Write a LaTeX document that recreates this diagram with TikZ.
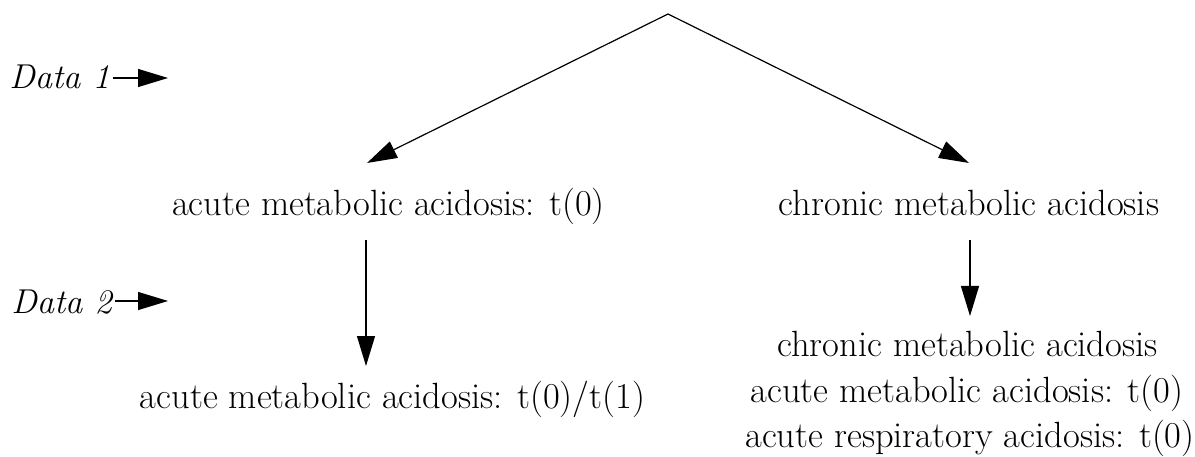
\documentclass[tikz,border=0pt]{standalone}
\usepackage{fontspec}
\usetikzlibrary{arrows.meta}
\begin{document}
\begin{tikzpicture}[x=1pt,y=-1pt,
  lbl/.style={font=\fontsize{36.5}{40}\selectfont, anchor=base, inner sep=0pt},
  datalbl/.style={font=\fontsize{34.5}{40}\selectfont\itshape, anchor=base east, inner sep=0pt},
  arr/.style={-{Triangle[length=30pt,width=18pt]}, line width=1.2pt}]
\useasboundingbox (0,0) rectangle (1195,457);

% tree labels
\node[lbl] (L1)  at (388.5,216) {acute metabolic acidosis: t(0)};
\node[lbl] (R1)  at (969,216)   {chronic metabolic acidosis};
\node[lbl] (L2)  at (392.5,408) {acute metabolic acidosis: t(0)/t(1)};
\node[lbl] (R2a) at (967.5,356) {chronic metabolic acidosis};
\node[lbl] (R2b) at (967,402)   {acute metabolic acidosis: t(0)};
\node[lbl] (R2c) at (970,447)   {acute respiratory acidosis: t(0)};

% data stage markers
\node[datalbl] (D1) at (110,89)  {Data 1};
\node[datalbl] (D2) at (112,313) {Data 2};

% connector end points
\coordinate (top) at (668,14);
\coordinate (a1) at (367,163);
\coordinate (b1) at (969,163);
\coordinate (a2s) at (366,240);
\coordinate (a2e) at (366,366);
\coordinate (b2s) at (970,240);
\coordinate (b2e) at (970,316);
\coordinate (d1e) at (168,78);
\coordinate (d2e) at (168,301);

\draw[arr] (top) -- (a1);
\draw[arr] (top) -- (b1);
\draw[arr] (a2s) -- (a2e);
\draw[arr] (b2s) -- (b2e);
\draw[arr] ([xshift=3pt]D1.east |- d1e) -- (d1e);
\draw[arr] ([xshift=3pt]D2.east |- d2e) -- (d2e);
\end{tikzpicture}
\end{document}
